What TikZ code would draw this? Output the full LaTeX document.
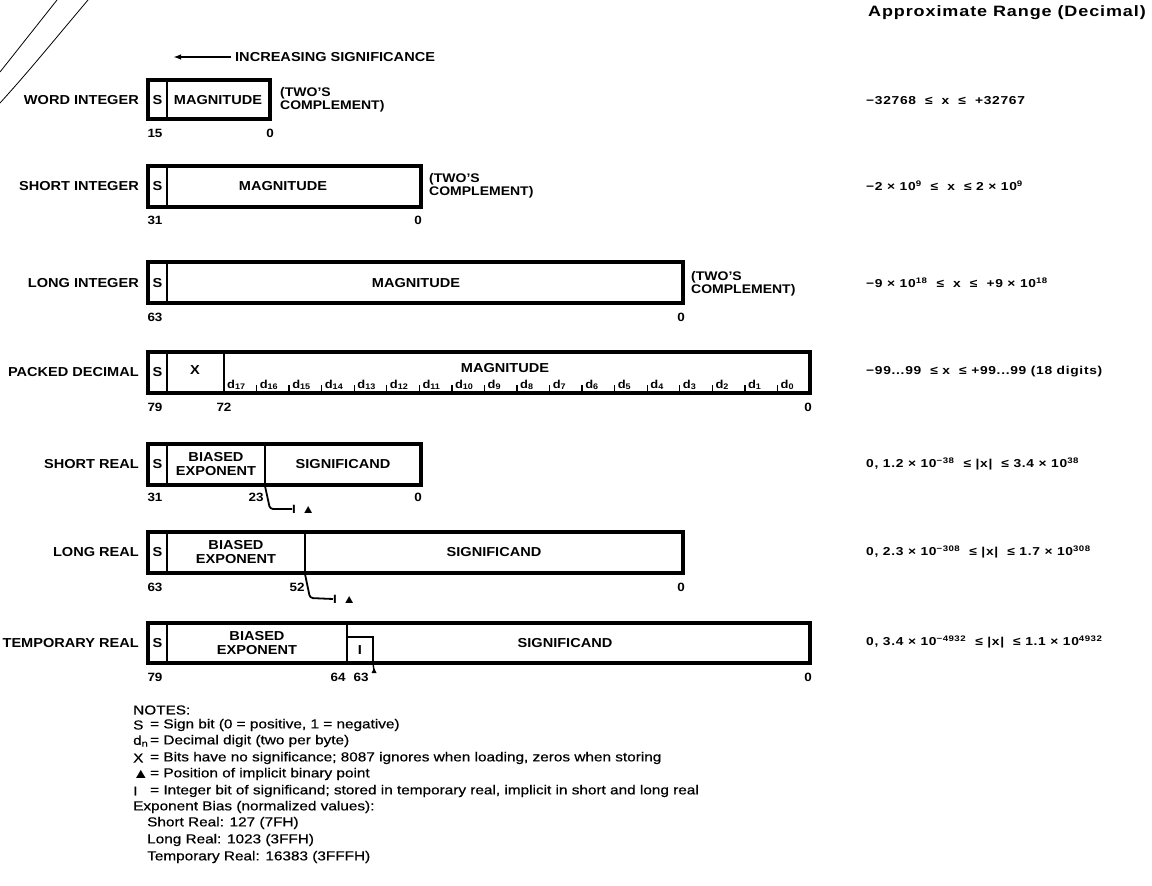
\documentclass[tikz,border=0pt]{standalone}
\usepackage{fontspec}
\setmainfont{Liberation Sans}[FakeStretch=1.12]
\newfontfamily\rngfont{Liberation Sans}[FakeStretch=1.2,LetterSpace=6]
\newfontfamily\notefont{Liberation Sans}[FakeStretch=1.18,FakeBold=0.5]
\usetikzlibrary{arrows.meta}
\begin{document}
\begin{tikzpicture}[x=1pt,y=-1pt,
  lbl/.style={font=\bfseries\fontsize{13}{14.5}\selectfont, inner sep=0pt, align=center},
  rowlbl/.style={lbl, anchor=east},
  tc/.style={font=\bfseries\fontsize{12.5}{13}\selectfont, inner sep=0pt, align=left, anchor=west},
  num/.style={font=\bfseries\fontsize{12}{13}\selectfont, inner sep=0pt},
  dig/.style={font=\bfseries\fontsize{11.5}{12}\selectfont, inner sep=0pt, anchor=base west},
  rng/.style={font=\rngfont\bfseries\fontsize{11.5}{13}\selectfont, inner sep=0pt, anchor=west},
  note/.style={font=\notefont\fontsize{13}{14}\selectfont, inner sep=0pt, anchor=west},
  frame/.style={line width=3.5pt},
  divl/.style={line width=2pt},
  lead/.style={line width=1.8pt, rounded corners=3pt}]
\useasboundingbox[fill=white] (0,0) rectangle (1152,886);

% margin marks
\draw[line width=0.8pt] (57,0) -- (0,72);
\draw[line width=0.8pt] (88,0) .. controls (50,45) and (30,70) .. (0,103);

% header
\node[font=\rngfont\bfseries\fontsize{15}{17}\selectfont, inner sep=0pt, anchor=east] (hdr) at (1146,13) {Approximate Range (Decimal)};

% increasing significance
\node[lbl, anchor=west] (inc) at (235,57) {INCREASING SIGNIFICANCE};
\coordinate (incend) at (173,57);
\draw[line width=1.8pt, -{Latex[length=8pt,width=5.5pt]}] ([xshift=-4pt]inc.west) -- (incend);

% ---------- WORD INTEGER
\node[rowlbl] (l1) at (139,100) {WORD INTEGER};
\draw[frame] (148,80) rectangle (270,119);
\draw[divl] (167,80) -- (167,119);
\node[lbl] (s1) at (157.5,100) {S};
\node[lbl] (m1) at (218,100) {MAGNITUDE};
\node[tc] (t1) at (280,100) {(TWO'S\\COMPLEMENT)};
\node[num] (n1a) at (155,133) {15};
\node[num] (n1b) at (270,133) {0};
\node[rng] (r1) at (866,101) {−32768 \ ≤\ \ x \ ≤\ \ +32767};

% ---------- SHORT INTEGER
\node[rowlbl] (l2) at (139,186) {SHORT INTEGER};
\draw[frame] (148,166) rectangle (421,207);
\draw[divl] (167,166) -- (167,207);
\node[lbl] (s2) at (157.5,186) {S};
\node[lbl] (m2) at (283,186) {MAGNITUDE};
\node[tc] (t2) at (429,186) {(TWO'S\\COMPLEMENT)};
\node[num] (n2a) at (155,220) {31};
\node[num] (n2b) at (418,220) {0};
\node[rng] (r2) at (866,186) {−2 × 10\textsuperscript{9} \ ≤\ \ x \ ≤\ 2 × 10\textsuperscript{9}};

% ---------- LONG INTEGER
\node[rowlbl] (l3) at (139,283) {LONG INTEGER};
\draw[frame] (148,262) rectangle (683,303);
\draw[divl] (167,262) -- (167,303);
\node[lbl] (s3) at (157.5,283) {S};
\node[lbl] (m3) at (416,283) {MAGNITUDE};
\node[tc] (t3) at (691,284) {(TWO'S\\COMPLEMENT)};
\node[num] (n3a) at (155,317) {63};
\node[num] (n3b) at (681,317) {0};
\node[rng] (r3) at (866,283) {−9 × 10\textsuperscript{18} \ ≤\ \ x \ ≤\ \ +9 × 10\textsuperscript{18}};

% ---------- PACKED DECIMAL
\node[rowlbl] (l4) at (139,372) {PACKED DECIMAL};
\draw[frame] (148,352) rectangle (810,393);
\draw[divl] (167,352) -- (167,393);
\draw[divl] (224,352) -- (224,393);
\node[lbl] (s4) at (157.5,372) {S};
\node[lbl] (x4) at (195,370) {X};
\node[lbl] (m4) at (505,368) {MAGNITUDE};
\foreach \i in {0,...,17}{
  \pgfmathtruncatemacro{\dd}{17-\i}
  \node[dig] (d\dd) at ({224+\i*32.556+3},388) {d\textsubscript{\dd}};
}
\foreach \i in {1,...,17}{
  \draw[line width=1.4pt] ({224+\i*32.556},393) -- ({224+\i*32.556},385);
}
\node[num] (n4a) at (155,407) {79};
\node[num] (n4b) at (224,407) {72};
\node[num] (n4c) at (808,407) {0};
\node[rng] (r4) at (866,372) {−99...99 \ ≤\ x \ ≤\ +99...99 (18 digits)};

% ---------- SHORT REAL
\node[rowlbl] (l5) at (139,464) {SHORT REAL};
\draw[frame] (148,444) rectangle (421,485);
\draw[divl] (167,444) -- (167,485);
\draw[divl] (265,444) -- (265,485);
\node[lbl] (s5) at (157.5,464) {S};
\node[lbl] (e5) at (216,464) {BIASED\\EXPONENT};
\node[lbl] (g5) at (343,464) {SIGNIFICAND};
\node[num] (n5a) at (155,497) {31};
\node[num] (n5b) at (256,497) {23};
\node[num] (n5c) at (418,497) {0};
\node[num, anchor=west] (p5) at (292,509) {I \,▲};
\draw[lead] (265,486) -- (270,509) -- (p5.west);
\node[rng] (r5) at (866,464) {0, 1.2 × 10\textsuperscript{−38} \ ≤\ |x| \ ≤\ 3.4 × 10\textsuperscript{38}};

% ---------- LONG REAL
\node[rowlbl] (l6) at (139,552) {LONG REAL};
\draw[frame] (148,532) rectangle (683,573);
\draw[divl] (167,532) -- (167,573);
\draw[divl] (305,532) -- (305,573);
\node[lbl] (s6) at (157.5,552) {S};
\node[lbl] (e6) at (236,552) {BIASED\\EXPONENT};
\node[lbl] (g6) at (494,552) {SIGNIFICAND};
\node[num] (n6a) at (155,587) {63};
\node[num] (n6b) at (297,587) {52};
\node[num] (n6c) at (681,587) {0};
\node[num, anchor=west] (p6) at (333,599) {I \,▲};
\draw[lead] (305,574) -- (310,598) -- (p6.west);
\node[rng] (r6) at (866,552) {0, 2.3 × 10\textsuperscript{−308} \ ≤\ |x| \ ≤\ 1.7 × 10\textsuperscript{308}};

% ---------- TEMPORARY REAL
\node[rowlbl] (l7) at (139,643) {TEMPORARY REAL};
\draw[frame] (148,623) rectangle (810,663);
\draw[divl] (167,623) -- (167,663);
\draw[divl] (347,623) -- (347,663);
\draw[divl] (347,637) -- (373,637) -- (373,663);
\node[lbl] (s7) at (157.5,643) {S};
\node[lbl] (e7) at (257,643) {BIASED\\EXPONENT};
\node[lbl] (i7) at (360,650) {I};
\node[lbl] (g7) at (565,643) {SIGNIFICAND};
\node[num] (n7a) at (155,677) {79};
\node[num] (n7b) at (338,677) {64};
\node[num] (n7c) at (361,677) {63};
\node[num] (n7d) at (808,677) {0};
\coordinate (bp7) at (374,671);
\draw[line width=1.4pt] (373,663) -- (bp7);
\fill (bp7) ++(-2.5,2) -- ++(5,0) -- ++(-2.5,-5) -- cycle;
\node[rng] (r7) at (866,642) {0, 3.4 × 10\textsuperscript{−4932} \ ≤\ |x| \ ≤\ 1.1 × 10\textsuperscript{4932}};

% ---------- NOTES
\node[note] (nt0) at (133,710) {NOTES:};
\node[note] (nt1) at (133,725) {S};
\node[note] (nt2) at (133,741) {d\textsubscript{n}};
\node[note] (nt3) at (133,758) {X};
\node[note] (nt4) at (133,774) {▲};
\node[note] (nt5) at (133,791) {I};
\foreach \y/\t in {725/Sign bit (0 = positive{,} 1 = negative),
                   741/Decimal digit (two per byte),
                   758/Bits have no significance; 8087 ignores when loading{,} zeros when storing,
                   774/Position of implicit binary point,
                   791/Integer bit of significand; stored in temporary real{,} implicit in short and long real}{
  \node[note] at (150,\y) {= \t};
}
\node[note] (nt6) at (133,807) {Exponent Bias (normalized values):};
\node[note] (nt7) at (147,823) {Short Real: 127 (7FH)};
\node[note] (nt8) at (147,840) {Long Real: 1023 (3FFH)};
\node[note] (nt9) at (147,857) {Temporary Real: 16383 (3FFFH)};
\end{tikzpicture}
\end{document}
